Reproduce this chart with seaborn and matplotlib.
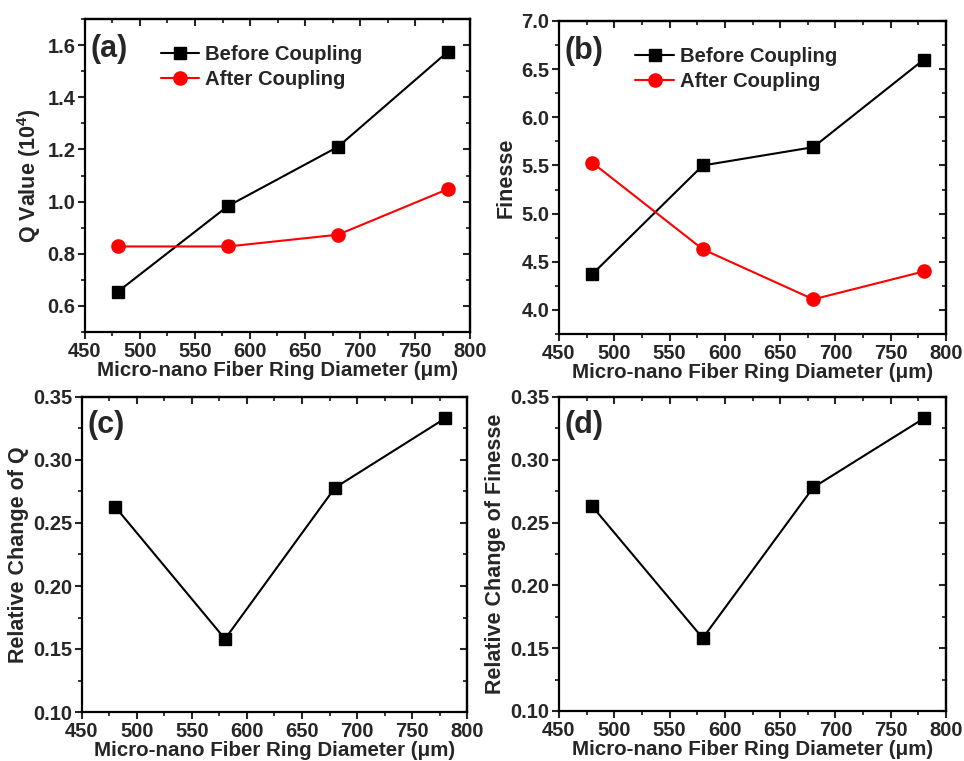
import matplotlib
matplotlib.use("Agg")
import matplotlib.pyplot as plt
from matplotlib.ticker import MultipleLocator
import seaborn as sns
import pandas as pd

# ---- data ----
diameter = [480, 580, 680, 780]
q_before = [0.655, 0.983, 1.210, 1.575]
q_after = [0.828, 0.828, 0.873, 1.048]
finesse_before = [4.37, 5.50, 5.69, 6.60]
finesse_after = [5.53, 4.63, 4.11, 4.40]
rel_change_q = [0.263, 0.158, 0.278, 0.333]
rel_change_finesse = [0.263, 0.158, 0.278, 0.333]

xlabel = "Micro-nano Fiber Ring Diameter (\u03bcm)"

sns.set_style("white")
plt.rcParams["font.family"] = ["Liberation Sans", "DejaVu Sans"]
plt.rcParams["font.weight"] = "bold"
plt.rcParams["axes.labelweight"] = "bold"
plt.rcParams["mathtext.fontset"] = "custom"
plt.rcParams["mathtext.rm"] = "Liberation Sans:bold"
plt.rcParams["mathtext.bf"] = "Liberation Sans:bold"
plt.rcParams["mathtext.default"] = "bf"

fig = plt.figure(figsize=(9.64, 7.61), dpi=100)

pos = {
    "a": [85 / 964, 1 - 332 / 761, 385 / 964, 313 / 761],
    "b": [559 / 964, 1 - 334 / 761, 387 / 964, 313 / 761],
    "c": [82 / 964, 1 - 712 / 761, 385 / 964, 315 / 761],
    "d": [559 / 964, 1 - 711 / 761, 387 / 964, 314 / 761],
}


def style_axes(ax, ylim, ymaj, ymin, ylabel, tag, label_y):
    ax.set_xlim(450, 800)
    ax.set_ylim(*ylim)
    ax.xaxis.set_major_locator(MultipleLocator(50))
    ax.xaxis.set_minor_locator(MultipleLocator(25))
    ax.yaxis.set_major_locator(MultipleLocator(ymaj))
    ax.yaxis.set_minor_locator(MultipleLocator(ymin))
    for s in ax.spines.values():
        s.set_linewidth(1.6)
        s.set_color("black")
        s.set_visible(True)
    ax.tick_params(which="major", direction="out", length=5, width=1.5,
                   labelsize=14.5, bottom=True, left=True, pad=2)
    ax.tick_params(which="minor", direction="out", length=3, width=1.3,
                   bottom=True, left=True)
    for lab in ax.get_xticklabels() + ax.get_yticklabels():
        lab.set_fontweight("bold")
    # mirror ticks inward on top/right
    top = ax.secondary_xaxis("top")
    top.xaxis.set_major_locator(MultipleLocator(50))
    top.xaxis.set_minor_locator(MultipleLocator(25))
    top.tick_params(which="major", direction="in", length=5, width=1.5, labeltop=False)
    top.tick_params(which="minor", direction="in", length=3, width=1.3)
    top.spines["top"].set_linewidth(1.6)
    right = ax.secondary_yaxis("right")
    right.yaxis.set_major_locator(MultipleLocator(ymaj))
    right.yaxis.set_minor_locator(MultipleLocator(ymin))
    right.tick_params(which="major", direction="in", length=5, width=1.5, labelright=False)
    right.tick_params(which="minor", direction="in", length=3, width=1.3)
    right.spines["right"].set_linewidth(1.6)
    ax.set_xlabel(xlabel, fontsize=14.8, fontweight="bold", labelpad=0)
    ax.set_ylabel(ylabel, fontsize=15.5, fontweight="bold", labelpad=3)
    ax.text(0.015, label_y, tag, transform=ax.transAxes, fontsize=22,
            fontweight="bold", va="center", ha="left")


def draw(ax, y, color, marker, label):
    df = pd.DataFrame({"x": diameter, "y": y})
    sns.lineplot(data=df, x="x", y="y", ax=ax, color=color, marker=marker,
                 markersize=8.5 if marker == "s" else 9.5, linewidth=1.5,
                 markeredgecolor=color, markeredgewidth=1, label=label)


# (a)
ax_a = fig.add_axes(pos["a"])
draw(ax_a, q_before, "black", "s", "Before Coupling")
draw(ax_a, q_after, "red", "o", "After Coupling")
style_axes(ax_a, (0.5, 1.7), 0.2, 0.1, r"Q Value (10$^{4}$)", "(a)", 0.905)

# (b)
ax_b = fig.add_axes(pos["b"])
draw(ax_b, finesse_before, "black", "s", "Before Coupling")
draw(ax_b, finesse_after, "red", "o", "After Coupling")
style_axes(ax_b, (3.75, 7.0), 0.5, 0.25, "Finesse", "(b)", 0.905)

for ax in (ax_a, ax_b):
    ax.legend(loc="upper left", bbox_to_anchor=(0.197, 0.918), frameon=False,
              prop={"family": "Liberation Sans", "weight": "bold", "size": 14.6},
              handlelength=1.9, handletextpad=0.3, labelspacing=0.3,
              borderpad=0, borderaxespad=0)

# (c)
ax_c = fig.add_axes(pos["c"])
draw(ax_c, rel_change_q, "black", "s", None)
style_axes(ax_c, (0.10, 0.35), 0.05, 0.025, "Relative Change of Q", "(c)", 0.91)

# (d)
ax_d = fig.add_axes(pos["d"])
draw(ax_d, rel_change_finesse, "black", "s", None)
style_axes(ax_d, (0.10, 0.35), 0.05, 0.025, "Relative Change of Finesse", "(d)", 0.91)

for ax in (ax_c, ax_d):
    leg = ax.get_legend()
    if leg is not None:
        leg.remove()

fig.savefig("out.png", dpi=100)
